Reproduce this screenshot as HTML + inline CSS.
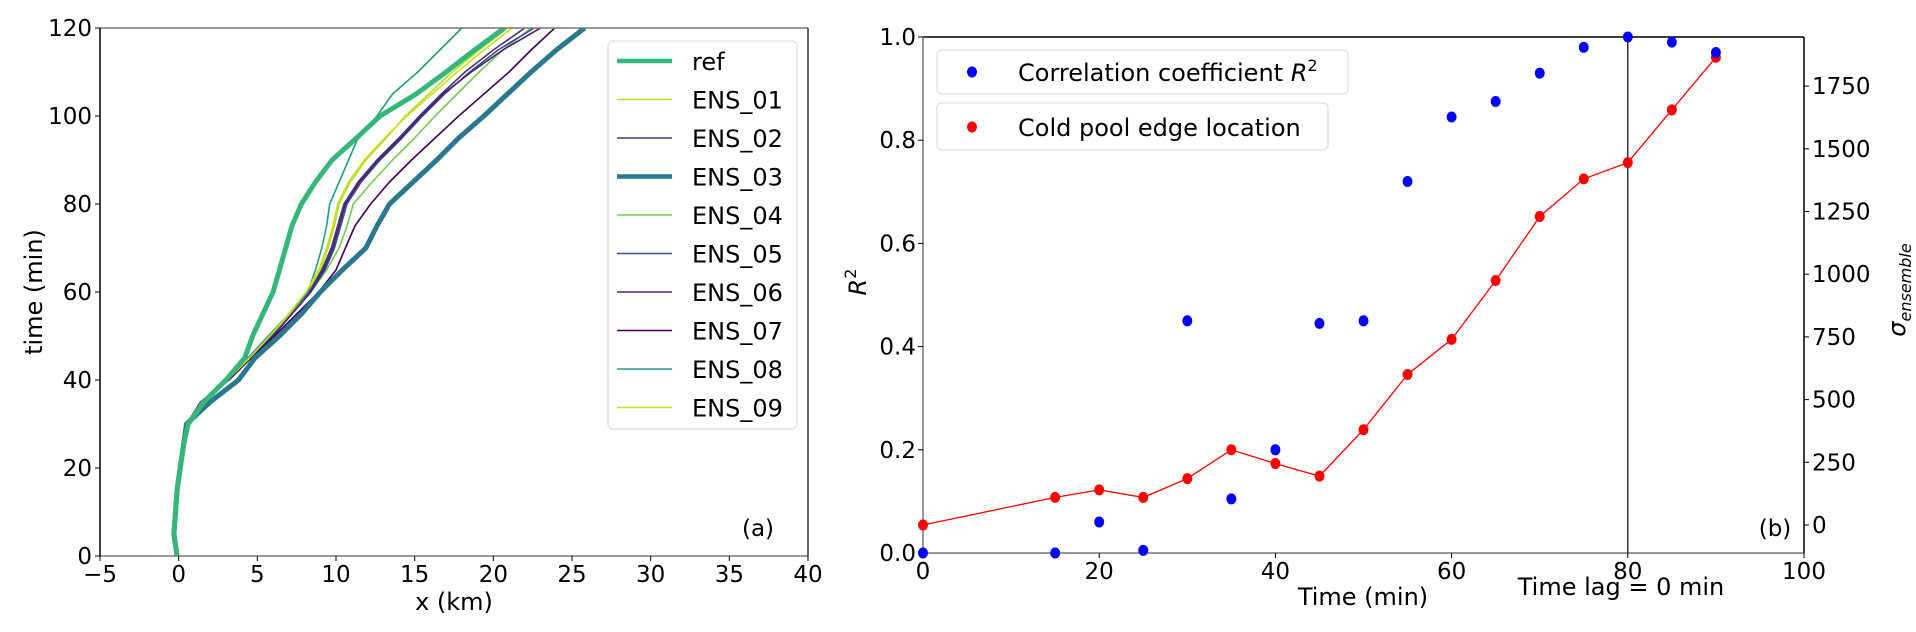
<!DOCTYPE html>
<html><head><meta charset="utf-8"><style>
html,body{margin:0;padding:0;background:#fff;}
svg{display:block;font-family:"DejaVu Sans","Liberation Sans",sans-serif;}
</style></head><body>
<svg id="fig" width="1916" height="632" viewBox="0 0 1916 632" xmlns="http://www.w3.org/2000/svg"></svg>
<script>
// ---- Panel (a) data ----
const timesA = [0,5,10,15,20,25,30,35,40,45,50,55,60,65,70,75,80,85,90,95,100,105,110,115,120];
const seriesNames = ["ref","ENS_01","ENS_02","ENS_03","ENS_04","ENS_05","ENS_06","ENS_07","ENS_08","ENS_09"];
const refX   = [-0.1,-0.3,-0.2,-0.1,0.1,0.3,0.6,1.6,3.0,4.2,4.7,5.35,6.0,6.4,6.8,7.2,7.8,8.7,9.75,11.3,12.8,15.1,17.0,18.8,20.7];
const ens01X = [-0.1,-0.3,-0.2,-0.1,0.1,0.3,0.5,1.5,3.1,4.5,5.8,7.0,8.2,9.0,9.5,9.9,10.2,10.9,11.9,13.2,14.4,15.9,17.4,19.1,20.9];
const ens02X = [-0.1,-0.3,-0.2,-0.1,0.1,0.3,0.5,1.4,3.1,4.5,5.9,7.1,8.3,9.1,9.7,10.1,10.5,11.4,12.6,14.0,15.3,16.7,18.2,20.0,22.0];
const ens03X = [-0.1,-0.3,-0.2,-0.1,0.1,0.3,0.5,2.0,3.8,4.85,6.4,7.8,9.0,10.4,11.9,12.6,13.4,14.9,16.4,17.8,19.4,20.9,22.4,24.0,25.8];
const ens04X = [-0.1,-0.3,-0.2,-0.1,0.1,0.3,0.5,1.5,3.1,4.5,5.8,7.1,8.4,9.4,10.2,10.7,11.1,12.3,13.6,15.0,16.3,17.7,19.1,20.6,22.4];
const ens05X = [-0.1,-0.3,-0.2,-0.1,0.1,0.3,0.5,1.4,3.1,4.6,6.0,7.2,8.4,9.3,9.9,10.3,10.7,11.6,12.8,14.2,15.5,16.9,18.5,20.3,22.6];
const ens06X = [-0.1,-0.3,-0.2,-0.1,0.1,0.3,0.5,1.4,3.1,4.6,6.0,7.2,8.4,9.2,9.8,10.2,10.6,11.5,12.7,14.1,15.4,16.8,18.6,20.6,23.0];
const ens07X = [-0.1,-0.3,-0.2,-0.1,0.1,0.3,0.5,1.5,3.2,4.6,6.1,7.5,8.9,10.0,10.6,11.2,12.2,13.4,14.8,16.3,17.8,19.4,21.0,22.4,23.9];
const ens08X = [-0.1,-0.3,-0.2,-0.1,0.1,0.3,0.5,1.5,3.0,4.4,5.7,7.0,8.2,8.7,9.1,9.4,9.6,10.2,10.8,11.4,12.6,13.6,15.2,16.6,18.0];
const ens09X = [-0.1,-0.3,-0.2,-0.1,0.1,0.3,0.5,1.5,3.1,4.5,5.8,7.0,8.1,8.9,9.4,9.8,10.1,10.8,11.8,13.1,14.5,16.1,17.7,19.4,21.2];
const xTicksA = [-5,0,5,10,15,20,25,30,35,40];
const yTicksA = [0,20,40,60,80,100,120];

// ---- Panel (b) data ----
const timesB = [0,15,20,25,30,35,40,45,50,55,60,65,70,75,80,85,90];
const r2Vals = [0.0,0.0,0.06,0.005,0.45,0.105,0.2,0.445,0.45,0.72,0.845,0.875,0.93,0.98,1.0,0.99,0.97];
const sigmaVals = [0,110,140,110,185,300,245,195,380,600,740,975,1230,1380,1445,1655,1865];
const xTicksB = [0,20,40,60,80,100];
const yTicksB = [0.0,0.2,0.4,0.6,0.8,1.0];
const y2TicksB = [0,250,500,750,1000,1250,1500,1750];
const lagTime = 80;

const NS="http://www.w3.org/2000/svg";
const svg=document.getElementById('fig');
function mk(tag,attrs,parent){const e=document.createElementNS(NS,tag);for(const k in attrs)e.setAttribute(k,attrs[k]);(parent||svg).appendChild(e);return e;}

// axes A
const A={x0:100,x1:808,y0:556,y1:28,xmin:-5,xmax:40,ymin:0,ymax:120};
const ax=v=>A.x0+(v-A.xmin)/(A.xmax-A.xmin)*(A.x1-A.x0);
const ay=v=>A.y0-(v-A.ymin)/(A.ymax-A.ymin)*(A.y0-A.y1);
// axes B
const B={x0:923,x1:1804,y0:553,y1:37};
const bx=v=>B.x0+v/100*(B.x1-B.x0);
const by=v=>B.y0-v*(B.y0-B.y1);
const by2=v=>525-v/250*62.7;

// Panel A
const gA=mk('g',{});


const colors=["#35b779","#b5de2b","#46337e","#2a788e","#6ece58","#3e4a89","#482475","#440154","#1f9e89","#c8e020"];
const widths=[5,1.6,1.6,5,1.6,1.6,1.6,1.6,1.6,1.6];
const allX=[refX,ens01X,ens02X,ens03X,ens04X,ens05X,ens06X,ens07X,ens08X,ens09X];
const clip=mk('clipPath',{id:'clipA'});mk('rect',{x:A.x0,y:A.y1,width:A.x1-A.x0,height:A.y0-A.y1},clip);
const order=[1,2,4,5,6,7,8,9,3,0];
order.forEach(i=>{
  const d=allX[i].map((v,k)=>(k?'L':'M')+ax(v).toFixed(1)+','+ay(timesA[k]).toFixed(1)).join('');
  const p=mk('path',{d:d,fill:'none',stroke:colors[i],'stroke-width':widths[i],'stroke-linejoin':'round','clip-path':'url(#clipA)'},gA);
  
  
});
// spines A
mk('line',{x1:A.x0,y1:A.y1,x2:A.x1,y2:A.y1,stroke:'#777','stroke-width':1.5},gA);
mk('line',{x1:A.x0,y1:A.y0,x2:A.x1,y2:A.y0,stroke:'#777','stroke-width':1.5},gA);
mk('line',{x1:A.x0,y1:A.y1,x2:A.x0,y2:A.y0,stroke:'#000','stroke-width':1.5},gA);
mk('line',{x1:A.x1,y1:A.y1,x2:A.x1,y2:A.y0,stroke:'#333','stroke-width':1.5},gA);
xTicksA.forEach(v=>{
  mk('line',{x1:ax(v),y1:A.y0,x2:ax(v),y2:A.y0+5,stroke:'#000'},gA);
  const t=mk('text',{x:ax(v),y:A.y0+26,'font-size':23,'text-anchor':'middle'},gA);
  t.textContent=(v<0?'\u2212'+(-v):v);
  
  
});
yTicksA.forEach(v=>{
  mk('line',{x1:A.x0-5,y1:ay(v),x2:A.x0,y2:ay(v),stroke:'#000'},gA);
  const t=mk('text',{x:A.x0-8,y:ay(v)+8,'font-size':23,'text-anchor':'end'},gA);
  t.textContent=v;
  
  
});
let t=mk('text',{x:454,y:610,'font-size':24,'text-anchor':'middle'},gA);t.textContent='x (km)';


t=mk('text',{x:0,y:0,'font-size':24,'text-anchor':'middle',transform:'translate(42,292) rotate(-90)'},gA);t.textContent='time (min)';


t=mk('text',{x:758,y:536,'font-size':23,'text-anchor':'middle'},gA);t.textContent='(a)';


// legend A
const lg=mk('g',{},gA);


mk('rect',{x:608,y:41,width:189,height:388,rx:5,fill:'#fff',stroke:'#ddd','stroke-width':1.2},lg);
seriesNames.forEach((n,i)=>{
  const yy=61+38.5*i;
  const l=mk('line',{x1:617,y1:yy,x2:672,y2:yy,stroke:colors[i],'stroke-width':widths[i]===5?4.5:1.6},lg);
  
  
  const tx=mk('text',{x:692,y:yy+9,'font-size':24},lg);tx.textContent=n;
  
  
});

// Panel B
const gB=mk('g',{});


mk('line',{x1:B.x0,y1:B.y1,x2:B.x1,y2:B.y1,stroke:'#000','stroke-width':1.5},gB);
mk('line',{x1:B.x0,y1:B.y0,x2:B.x1,y2:B.y0,stroke:'#777','stroke-width':1.5},gB);
mk('line',{x1:B.x0,y1:B.y1,x2:B.x0,y2:B.y0,stroke:'#777','stroke-width':1.5},gB);
mk('line',{x1:B.x1,y1:B.y1,x2:B.x1,y2:B.y0,stroke:'#000','stroke-width':1.5},gB);
const vl=mk('line',{x1:bx(lagTime),y1:B.y1,x2:bx(lagTime),y2:B.y0,stroke:'#000','stroke-width':1.2},gB);


xTicksB.forEach(v=>{
  mk('line',{x1:bx(v),y1:B.y0,x2:bx(v),y2:B.y0+5,stroke:'#000'},gB);
  const tx=mk('text',{x:bx(v),y:B.y0+26,'font-size':23,'text-anchor':'middle'},gB);tx.textContent=v;
  
  
});
yTicksB.forEach(v=>{
  mk('line',{x1:B.x0-5,y1:by(v),x2:B.x0,y2:by(v),stroke:'#000'},gB);
  const tx=mk('text',{x:B.x0-7,y:by(v)+8,'font-size':23,'text-anchor':'end'},gB);tx.textContent=v.toFixed(1);
  
  
});
y2TicksB.forEach(v=>{
  mk('line',{x1:B.x1,y1:by2(v),x2:B.x1+5,y2:by2(v),stroke:'#000'},gB);
  const tx=mk('text',{x:B.x1+8,y:by2(v)+8,'font-size':23},gB);tx.textContent=v;
  
  
});
const rd=sigmaVals.map((v,k)=>(k?'L':'M')+bx(timesB[k]).toFixed(1)+','+by2(v).toFixed(1)).join('');
const rl=mk('path',{d:rd,fill:'none',stroke:'#ff0000','stroke-width':1.3},gB);


sigmaVals.forEach((v,k)=>{
  const c=mk('ellipse',{cx:bx(timesB[k]),cy:by2(v),rx:5,ry:5.5,fill:'#ff0000'},gB);
  
  
});
r2Vals.forEach((v,k)=>{
  const c=mk('ellipse',{cx:bx(timesB[k]),cy:by(v),rx:5,ry:5.5,fill:'#0000ff'},gB);
  
  
});
// legends B
const l1=mk('g',{},gB);


mk('rect',{x:937,y:50,width:411,height:44,rx:5,fill:'#fff',stroke:'#ddd','stroke-width':1.2},l1);
mk('ellipse',{cx:972,cy:72,rx:5,ry:5.5,fill:'#0000ff'},l1);
let tx=mk('text',{x:1018,y:81,'font-size':24},l1);
tx.innerHTML='Correlation coefficient <tspan font-style="italic">R</tspan><tspan font-size="16" dy="-10">2</tspan>';
const l2=mk('g',{},gB);


mk('rect',{x:937,y:103,width:391,height:47,rx:5,fill:'#fff',stroke:'#ddd','stroke-width':1.2},l2);
mk('ellipse',{cx:972,cy:127,rx:5,ry:5.5,fill:'#ff0000'},l2);
tx=mk('text',{x:1018,y:136,'font-size':24},l2);tx.textContent='Cold pool edge  location';
// labels
tx=mk('text',{x:1363,y:605,'font-size':24,'text-anchor':'middle'},gB);tx.textContent='Time (min)';


tx=mk('text',{x:1621,y:595,'font-size':24,'text-anchor':'middle'},gB);tx.textContent='Time lag = 0 min';


tx=mk('text',{x:1775,y:536,'font-size':23,'text-anchor':'middle'},gB);tx.textContent='(b)';


tx=mk('text',{x:0,y:0,'font-size':24,'text-anchor':'middle',transform:'translate(866,282) rotate(-90)'},gB);
tx.innerHTML='<tspan font-style="italic">R</tspan><tspan font-size="16" dy="-10">2</tspan>';


tx=mk('text',{x:0,y:0,'font-size':24,'text-anchor':'middle',transform:'translate(1905,290) rotate(-90)'},gB);
tx.innerHTML='<tspan font-style="italic">σ</tspan><tspan font-size="16" font-style="italic" dy="6">ensemble</tspan>';


</script>
</body></html>
